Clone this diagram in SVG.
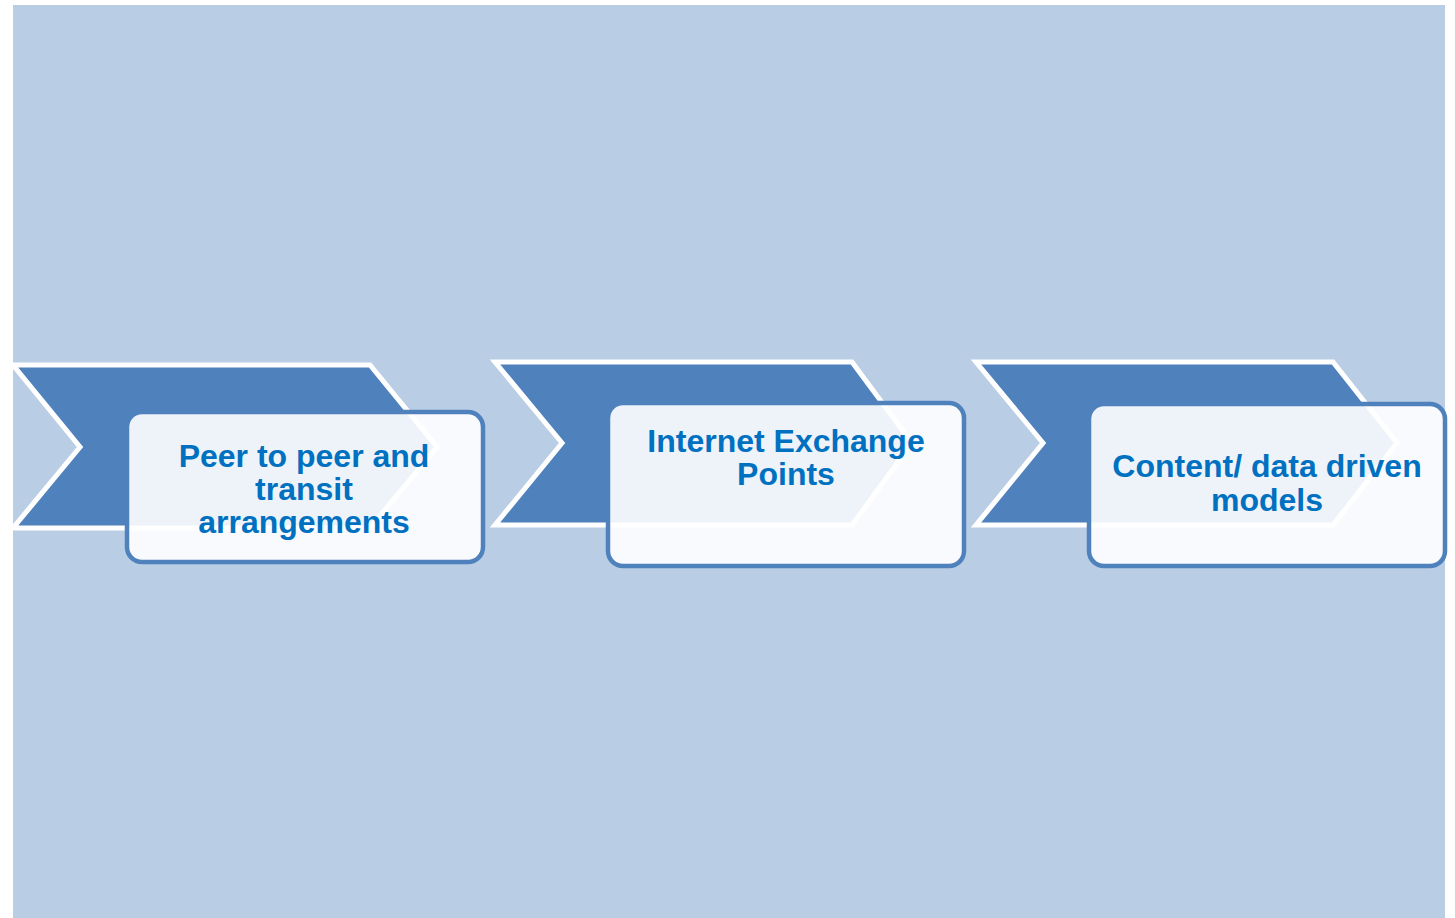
<svg xmlns="http://www.w3.org/2000/svg" width="1455" height="918" viewBox="0 0 1455 918">
  <style>
    .chev { fill: #4F81BD; stroke: #FFFFFF; stroke-width: 5; stroke-linejoin: miter; }
    .box { fill: #FFFFFF; fill-opacity: 0.9; stroke: #4F81BD; stroke-width: 4.5; }
    .lbl { font-family: "Liberation Sans", Arial, sans-serif; font-weight: bold; font-size: 32px; fill: #0070C0; text-anchor: middle; }
  </style>
  <rect x="0" y="0" width="1455" height="918" fill="#FFFFFF"/>
  <rect x="13" y="5" width="1432" height="913" fill="#B9CDE4"/>

  <g id="step1">
    <polygon class="chev" points="13,365 370,365 437,447 370,528 13,528 80,447"/>
    <rect class="box" x="127" y="412" width="356" height="150" rx="15" ry="15"/>
    <text class="lbl" x="304" y="467">Peer to peer and</text>
    <text class="lbl" x="304" y="500">transit</text>
    <text class="lbl" x="304" y="533">arrangements</text>
  </g>

  <g id="step2">
    <polygon class="chev" points="495,362 852,362 912,443 852,525 495,525 562,443"/>
    <rect class="box" x="608" y="403" width="356" height="163" rx="15" ry="15"/>
    <text class="lbl" x="786" y="452">Internet Exchange</text>
    <text class="lbl" x="786" y="485">Points</text>
  </g>

  <g id="step3">
    <polygon class="chev" points="976,362 1333,362 1397,443 1333,525 976,525 1043,443"/>
    <rect class="box" x="1089" y="404" width="356" height="162" rx="15" ry="15"/>
    <text class="lbl" x="1267" y="477">Content/ data driven</text>
    <text class="lbl" x="1267" y="511">models</text>
  </g>

  <g id="connectors"/>
</svg>
